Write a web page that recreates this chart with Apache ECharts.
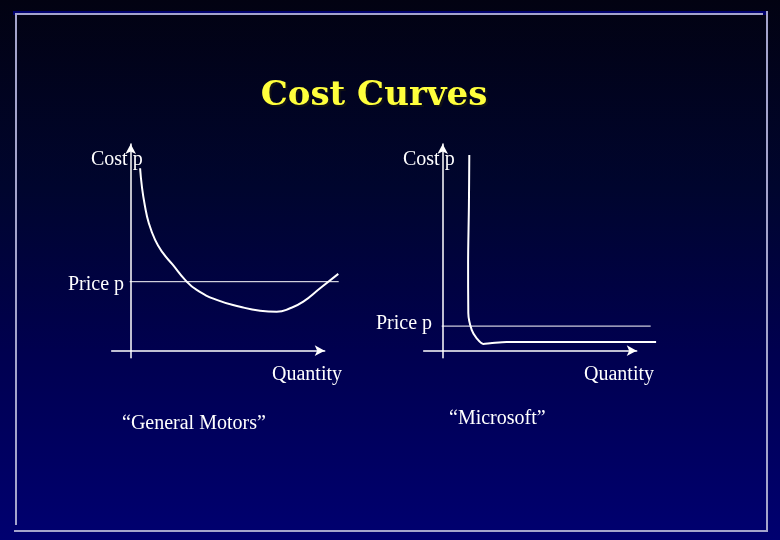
<!DOCTYPE html>
<html>
<head>
<meta charset="utf-8">
<script src="https://cdn.jsdelivr.net/npm/echarts@6/dist/echarts.min.js"></script>
<style>
html,body{margin:0;padding:0;background:#000;}
#main{width:780px;height:540px;background:linear-gradient(to bottom,#020212 0%,#00052e 35%,#00004f 65%,#000070 100%);}
</style>
</head>
<body>
<div id="main"></div>
<script>
// ---- data ----
var titleText = 'Cost Curves';
var axisLabelCost = 'Cost p';
var axisLabelQty = 'Quantity';
var priceLabel = 'Price p';
var firmNames = ['\u201cGeneral Motors\u201d', '\u201cMicrosoft\u201d'];

// General Motors: average cost curve (Quantity, Cost)
var gmQty  = [0.47, 0.56, 0.70, 0.90, 1.22, 1.60, 2.10, 2.72, 3.30, 4.30, 5.47, 6.47, 7.30, 7.97, 8.63, 9.47, 10.38];
var gmCost = [9.12, 8.20, 7.30, 6.40, 5.54, 4.90, 4.30, 3.54, 3.04, 2.54, 2.20, 2.00, 1.95, 2.12, 2.45, 3.12, 3.84];
var gmPrice = 3.45;

// Microsoft: average cost curve
var msQty  = [1.33, 1.31, 1.27, 1.28, 1.45, 1.70, 2.03, 2.37, 3.20, 10.67];
var msCost = [9.79, 7.20, 4.39, 1.89, 1.04, 0.62, 0.34, 0.37, 0.44, 0.44];
var msPrice = 1.23;

var priceQty = [-0.05, 10.4];

function pairs(xs, ys){ return xs.map(function(x,i){ return [x, ys[i]]; }); }

var chart = echarts.init(document.getElementById('main'), null, {renderer:'canvas'});
var serif = '"Liberation Serif","Times New Roman",serif';

// scale: 20 px per unit; origins at (130.7,350.7) and (442.7,350.7)
var X_MIN = -0.95, X_AXIS_MAX = 9.7, X_DATA_MAX = 11.0;
var Y_MIN = -0.35, Y_MAX = 10.33;
var PX = 20;
var origins = [130.7, 442.7], originY = 350.7;

function gridFor(ox, xmax){
  return {left: ox + X_MIN*PX, top: originY - Y_MAX*PX, width: (xmax - X_MIN)*PX, height: (Y_MAX - Y_MIN)*PX};
}
function mkX(i, xmax, show){
  return {type:'value', gridIndex:i, min:X_MIN, max:xmax,
    axisLine:{show:show, onZero:true, symbol:['none','arrow'], symbolSize:[8,10], lineStyle:{color:'#ffffff', width:1.5}},
    axisTick:{show:false}, axisLabel:{show:false}, splitLine:{show:false}};
}
function mkY(i, show){
  return {type:'value', gridIndex:i, min:Y_MIN, max:Y_MAX,
    axisLine:{show:show, onZero:true, symbol:['none','arrow'], symbolSize:[8,10], lineStyle:{color:'#ffffff', width:1.5}},
    axisTick:{show:false}, axisLabel:{show:false}, splitLine:{show:false}};
}
function txt(t, x, y, size){
  return {type:'text', x:x, y:y, z:10, silent:true,
    style:{fill:'#ffffff', text:t, font:size+'px '+serif, textAlign:'left', textVerticalAlign:'middle'}};
}

var option = {
  animation:false,
  grid:[
    gridFor(origins[0], X_AXIS_MAX), gridFor(origins[1], X_AXIS_MAX),
    gridFor(origins[0], X_DATA_MAX), gridFor(origins[1], X_DATA_MAX)
  ],
  xAxis:[mkX(0, X_AXIS_MAX, true), mkX(1, X_AXIS_MAX, true), mkX(2, X_DATA_MAX, false), mkX(3, X_DATA_MAX, false)],
  yAxis:[mkY(0, true), mkY(1, true), mkY(2, false), mkY(3, false)],
  series:[
    {type:'line', xAxisIndex:2, yAxisIndex:2, data:pairs(priceQty,[gmPrice,gmPrice]), symbol:'none',
      lineStyle:{color:'#ffffff', width:1}},
    {type:'line', xAxisIndex:2, yAxisIndex:2, data:pairs(gmQty,gmCost), symbol:'none', smooth:0.5,
      lineStyle:{color:'#ffffff', width:2}},
    {type:'line', xAxisIndex:3, yAxisIndex:3, data:pairs(priceQty,[msPrice,msPrice]), symbol:'none',
      lineStyle:{color:'#ffffff', width:1}},
    {type:'line', xAxisIndex:3, yAxisIndex:3, data:pairs(msQty,msCost), symbol:'none', smooth:0.3,
      lineStyle:{color:'#ffffff', width:2}}
  ],
  graphic:[
    // frame
    {type:'rect', shape:{x:13, y:11, width:754, height:4}, style:{fill:'#00006e'}, z:1, silent:true},
    {type:'line', shape:{x1:15, y1:14, x2:763, y2:14}, style:{stroke:'#a4a4cc', lineWidth:2}, z:2, silent:true},
    {type:'line', shape:{x1:16, y1:13, x2:16, y2:525}, style:{stroke:'#a4a4cc', lineWidth:2}, z:2, silent:true},
    {type:'line', shape:{x1:767, y1:11, x2:767, y2:531}, style:{stroke:'#a4a4cc', lineWidth:2}, z:2, silent:true},
    {type:'line', shape:{x1:14, y1:531, x2:768, y2:531}, style:{stroke:'#a4a4cc', lineWidth:2}, z:2, silent:true},
    // title
    {type:'text', x:374, y:96, z:10, silent:true,
      style:{text:titleText, font:'bold 34px "DejaVu Serif",serif', fill:'#ffff3c', textAlign:'center', textVerticalAlign:'middle',
        textShadowColor:'rgba(20,20,20,0.9)', textShadowOffsetX:2, textShadowOffsetY:2, textShadowBlur:1}},
    txt(axisLabelCost, 91, 160, 20),
    txt(axisLabelCost, 403, 160, 20),
    txt(priceLabel, 68, 285, 20),
    txt(priceLabel, 376, 324, 20),
    txt(axisLabelQty, 272, 375, 20),
    txt(axisLabelQty, 584, 375, 20),
    txt(firmNames[0], 122, 424, 20),
    txt(firmNames[1], 449, 419, 20)
  ]
};
chart.setOption(option);
</script>
</body>
</html>
